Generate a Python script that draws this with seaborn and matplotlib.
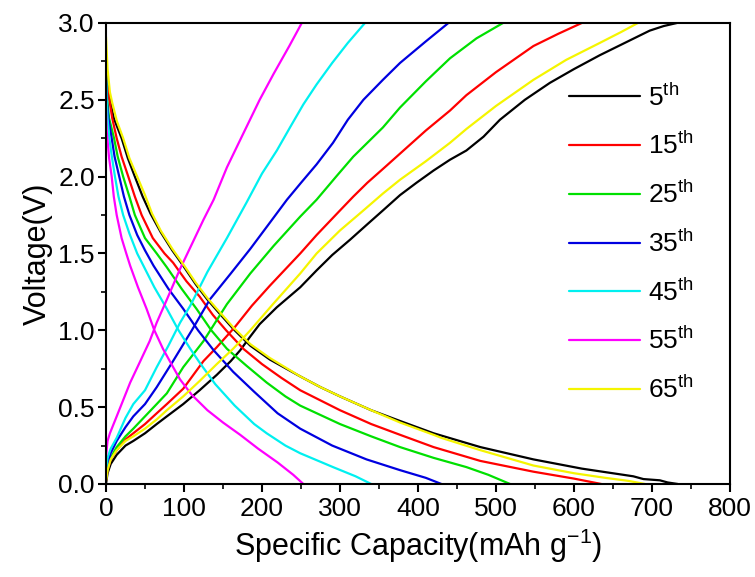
import matplotlib
matplotlib.use("Agg")
import matplotlib.pyplot as plt
from matplotlib.ticker import MultipleLocator
import pandas as pd
import seaborn as sns

cycles = ["5th", "15th", "25th", "35th", "45th", "55th", "65th"]
colors = ["#000000", "#FF0000", "#00E000", "#0000E0", "#00F0F0", "#FF00FF", "#F5F500"]

# discharge branches (capacity mAh/g, voltage V)
dis_cap = {
    "5th": [0, 2, 5, 10, 20, 28, 37, 47, 57, 70, 85, 99, 115, 130, 142, 163, 185, 210, 249, 275, 300,
            340, 377, 420, 480, 548, 610, 676, 689, 710, 720, 733],
    "15th": [0, 2, 4.3, 8, 13.7, 20, 28.6, 37, 45.7, 60, 75, 86, 103, 120, 137, 154, 176, 200, 225, 249,
             300, 340, 377, 420, 480, 548, 600, 635],
    "25th": [0, 1.5, 4, 10.3, 15, 22, 30, 37, 50, 65, 78, 97, 116, 135, 155, 180, 206, 230, 249, 300,
             340, 377, 420, 462, 490, 518],
    "35th": [0, 1, 3, 7.3, 11, 17, 23, 30, 40, 50, 61, 80, 99, 118, 138, 163, 190, 220, 249, 290, 334,
             377, 410, 430],
    "45th": [0, 0.8, 2, 4.3, 7.5, 11.5, 16, 22, 30, 40, 48, 62, 78, 93, 108, 120, 140, 165, 190, 206,
             230, 249, 291, 320, 340],
    "55th": [0, 0.8, 1.7, 4, 7.3, 10, 13.7, 20, 26, 31, 41, 52, 62, 73, 85, 95, 110, 130, 150, 172, 195,
             220, 240, 253],
    "65th": [0, 2, 5, 8, 14, 22, 30, 40, 50, 59, 70, 85, 99, 115, 130, 142, 163, 185, 210, 249, 275,
             300, 340, 377, 420, 430, 480, 548, 600, 640, 670, 691],
}
dis_volt = {
    "5th": [2.78, 2.62, 2.5, 2.38, 2.25, 2.12, 2.0, 1.87, 1.76, 1.64, 1.52, 1.42, 1.3, 1.2, 1.13, 1.01,
            0.9, 0.81, 0.70, 0.63, 0.57, 0.48, 0.41, 0.33, 0.24, 0.16, 0.10, 0.05, 0.032, 0.024, 0.01, 0.0],
    "15th": [2.72, 2.58, 2.5, 2.38, 2.25, 2.13, 2.0, 1.87, 1.75, 1.6, 1.5, 1.44, 1.32, 1.22, 1.1, 1.0,
             0.88, 0.78, 0.69, 0.61, 0.48, 0.39, 0.32, 0.24, 0.15, 0.08, 0.035, 0.0],
    "25th": [2.7, 2.5, 2.38, 2.25, 2.13, 2.0, 1.87, 1.75, 1.6, 1.5, 1.41, 1.27, 1.14, 1.0, 0.88, 0.77,
             0.66, 0.57, 0.51, 0.39, 0.31, 0.24, 0.17, 0.11, 0.06, 0.0],
    "35th": [2.7, 2.5, 2.38, 2.25, 2.13, 2.0, 1.87, 1.75, 1.62, 1.52, 1.42, 1.27, 1.14, 1.0, 0.87, 0.73,
             0.6, 0.46, 0.36, 0.25, 0.16, 0.09, 0.04, 0.0],
    "45th": [2.68, 2.5, 2.38, 2.25, 2.13, 2.0, 1.87, 1.75, 1.63, 1.5, 1.42, 1.28, 1.14, 1.0, 0.88, 0.79,
             0.65, 0.51, 0.39, 0.33, 0.25, 0.2, 0.11, 0.05, 0.0],
    "55th": [2.44, 2.3, 2.25, 2.12, 2.0, 1.87, 1.75, 1.6, 1.5, 1.42, 1.28, 1.14, 1.0, 0.88, 0.77, 0.68,
             0.58, 0.48, 0.40, 0.32, 0.23, 0.14, 0.06, 0.0],
    "65th": [2.91, 2.7, 2.55, 2.48, 2.36, 2.25, 2.12, 2.0, 1.88, 1.76, 1.65, 1.53, 1.43, 1.31, 1.21, 1.14,
             1.02, 0.91, 0.82, 0.70, 0.63, 0.57, 0.48, 0.40, 0.32, 0.30, 0.22, 0.12, 0.07, 0.04, 0.02, 0.0],
}

# charge branches
chg_cap = {
    "5th": [0, 2, 6, 13.7, 25, 35, 50, 65, 78, 99, 120, 142, 160, 172, 185, 197, 219, 249, 270, 290, 313,
            335, 355, 377, 398, 420, 441, 462, 484, 505, 537, 569, 600, 633, 665, 697, 715, 732],
    "15th": [0, 2, 6, 13.7, 25, 35, 50, 65, 78, 99, 125, 142, 165, 187, 210, 249, 270, 300, 317, 335,
             355, 377, 410, 441, 462, 500, 548, 580, 610],
    "25th": [0, 2, 6, 13.7, 25, 35, 50, 65, 78, 99, 125, 155, 185, 215, 249, 270, 295, 317, 355, 377,
             410, 441, 475, 509],
    "35th": [0, 2, 6, 13.7, 25, 35, 50, 65, 86, 110, 133, 160, 185, 210, 232, 250, 270, 291, 310, 330,
             355, 377, 410, 439],
    "45th": [0, 2, 6, 13.7, 25, 35, 50, 65, 80, 95, 108, 130, 155, 180, 200, 219, 237, 253, 270, 290,
             310, 332],
    "55th": [0, 2, 5, 13.7, 20, 31, 44, 56, 65, 78, 95, 110, 125, 138, 155, 175, 197, 215, 235, 251],
    "65th": [0, 2, 6, 13.7, 25, 35, 50, 65, 78, 99, 120, 142, 163, 185, 214, 249, 270, 300, 330, 355,
             377, 410, 441, 462, 500, 548, 590, 633, 660, 682],
}
chg_volt = {
    "5th": [0.0, 0.07, 0.13, 0.19, 0.25, 0.28, 0.33, 0.39, 0.44, 0.52, 0.61, 0.71, 0.8, 0.87, 0.96, 1.04,
            1.15, 1.28, 1.39, 1.49, 1.59, 1.69, 1.78, 1.88, 1.96, 2.04, 2.11, 2.17, 2.26, 2.37, 2.5, 2.61,
            2.7, 2.79, 2.87, 2.95, 2.98, 3.0],
    "15th": [0.02, 0.09, 0.16, 0.22, 0.29, 0.33, 0.39, 0.46, 0.52, 0.62, 0.8, 0.89, 1.02, 1.16, 1.29,
             1.5, 1.62, 1.78, 1.87, 1.96, 2.05, 2.15, 2.3, 2.43, 2.53, 2.68, 2.85, 2.93, 3.0],
    "25th": [0.03, 0.1, 0.17, 0.24, 0.31, 0.36, 0.44, 0.52, 0.59, 0.76, 0.93, 1.17, 1.37, 1.55, 1.74,
             1.85, 2.0, 2.13, 2.32, 2.45, 2.62, 2.77, 2.9, 3.0],
    "35th": [0.06, 0.13, 0.2, 0.28, 0.37, 0.44, 0.52, 0.63, 0.8, 1.0, 1.2, 1.37, 1.53, 1.7, 1.85, 1.96,
             2.08, 2.22, 2.37, 2.5, 2.63, 2.74, 2.88, 3.0],
    "45th": [0.09, 0.17, 0.23, 0.3, 0.43, 0.52, 0.61, 0.76, 0.9, 1.05, 1.16, 1.38, 1.6, 1.83, 2.02, 2.17,
             2.33, 2.47, 2.6, 2.74, 2.87, 3.0],
    "55th": [0.18, 0.28, 0.33, 0.44, 0.52, 0.66, 0.8, 0.93, 1.05, 1.2, 1.4, 1.56, 1.72, 1.85, 2.06, 2.27,
             2.5, 2.67, 2.85, 3.0],
    "65th": [0.02, 0.09, 0.16, 0.22, 0.28, 0.31, 0.36, 0.42, 0.48, 0.57, 0.67, 0.78, 0.88, 1.0, 1.17,
             1.37, 1.5, 1.65, 1.78, 1.89, 1.98, 2.1, 2.22, 2.31, 2.46, 2.63, 2.76, 2.87, 2.94, 3.0],
}

rows = []
for c in cycles:
    for x, y in zip(dis_cap[c], dis_volt[c]):
        rows.append((c, "discharge", x, y))
    for x, y in zip(chg_cap[c], chg_volt[c]):
        rows.append((c, "charge", x, y))
df = pd.DataFrame(rows, columns=["Cycle", "Branch", "Capacity", "Voltage"])

sns.set_style("ticks")
plt.rcParams["font.family"] = ["Liberation Sans", "DejaVu Sans"]
plt.rcParams["mathtext.default"] = "regular"
for k in ["text.color", "axes.labelcolor", "xtick.color", "ytick.color", "axes.edgecolor"]:
    plt.rcParams[k] = "black"

fig = plt.figure(figsize=(7.55, 5.77), dpi=100)
ax = fig.add_axes([0.1404, 0.1612, 0.8265, 0.799])

sns.lineplot(data=df, x="Capacity", y="Voltage", hue="Cycle", units="Branch",
             estimator=None, sort=False, palette=colors, hue_order=cycles,
             linewidth=1.6, ax=ax)

ax.set_xlim(0, 800)
ax.set_ylim(0, 3.0)
ax.xaxis.set_major_locator(MultipleLocator(100))
ax.xaxis.set_minor_locator(MultipleLocator(50))
ax.yaxis.set_major_locator(MultipleLocator(0.5))
ax.yaxis.set_minor_locator(MultipleLocator(0.25))
ax.tick_params(which="major", direction="out", length=6, width=1.5, labelsize=19)
ax.tick_params(which="minor", direction="out", length=3.5, width=1.2)
ax.tick_params(axis="y", which="major", pad=2)
for s in ax.spines.values():
    s.set_linewidth(1.5)
ax.set_xlabel("Specific Capacity(mAh g$^{-1}$)", fontsize=22)
ax.set_ylabel("Voltage(V)", fontsize=22)

handles, _ = ax.get_legend_handles_labels()
ax.legend(handles, [c[:-2] + "$^{th}$" for c in cycles], loc="upper right",
          bbox_to_anchor=(0.98, 0.92), frameon=False, fontsize=19,
          handlelength=2.7, handletextpad=0.3, labelspacing=0.82)

fig.savefig("out.png", dpi=100)
